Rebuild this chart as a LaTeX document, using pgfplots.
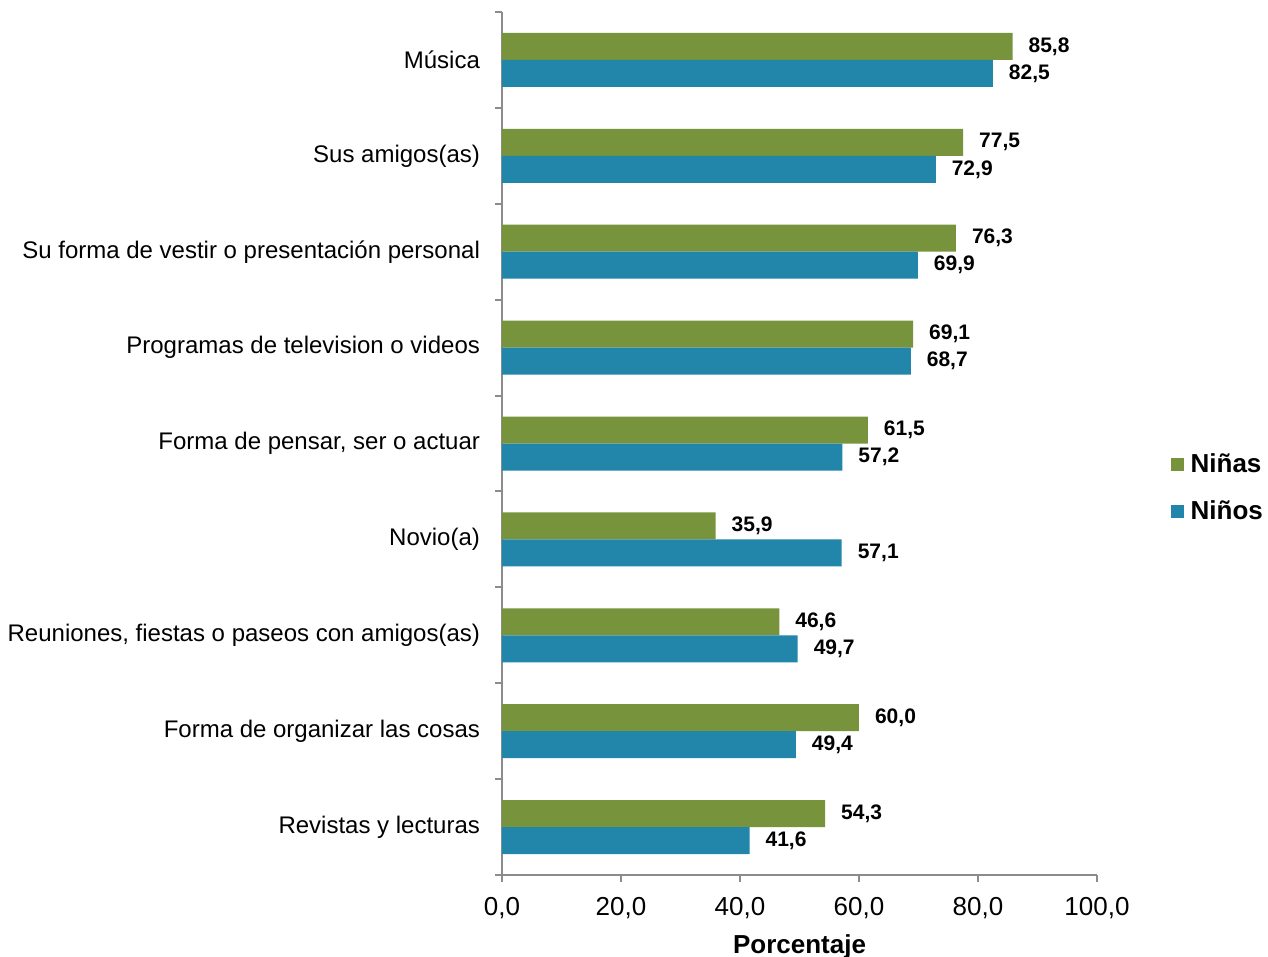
\documentclass[border=0pt]{standalone}
\usepackage{fontspec}
\setmainfont{Liberation Sans}
\usepackage{pgfplots}
\pgfplotsset{compat=1.18}
\definecolor{ninas}{HTML}{77933C}
\definecolor{ninos}{HTML}{2286AA}
\definecolor{axgray}{HTML}{8C8C8C}
\begin{document}
\begin{tikzpicture}
\begin{axis}[
    name=ax,
    scale only axis,
    width=297.5pt, height=431.5pt,
    xmin=0, xmax=100, ymin=-0.5, ymax=8.5,
    axis lines=left,
    axis line style={-, draw=axgray, line width=1pt},
    tick align=outside,
    major tick length=3.5pt,
    tick style={draw=axgray, line width=1pt},
    xbar, bar width=13.5pt,
    xtick={0,20,...,100},
    ytick={-0.5,0.5,1.5,2.5,3.5,4.5,5.5,6.5,7.5,8.5},
    y tick label as interval,
    yticklabels={Revistas y lecturas, Forma de organizar las cosas,
        {Reuniones, fiestas o paseos con amigos(as)}, Novio(a),
        {Forma de pensar, ser o actuar}, Programas de television o videos,
        Su forma de vestir o presentación personal, Sus amigos(as), Música},
    /pgf/number format/.cd, use comma, fixed, fixed zerofill, precision=1,
        assume math mode=true,
    /pgfplots/.cd,
    x tick label style={font=\fontsize{13}{15}\selectfont, yshift=-4pt},
    y tick label style={font=\fontsize{12}{14}\selectfont, xshift=-4pt},
    xlabel={\bfseries Porcentaje},
    xlabel style={font=\fontsize{13}{15}\selectfont, yshift=-1pt},
    point meta=x,
    nodes near coords,
    nodes near coords style={font=\fontsize{10.5}{12}\selectfont\bfseries, xshift=4.5pt},
    legend style={at={(1.113,0.448)}, anchor=west, draw=none, fill=none,
        font=\fontsize{13}{15}\selectfont\bfseries, row sep=8.5pt},
    legend cell align=left,
    legend image code/.code={\fill[#1] (0pt,-3.25pt) rectangle (6.5pt,3.25pt); \path (8pt,0pt);},
]
\addplot[fill=ninas, draw=none, bar shift=6.75pt] coordinates {
    (54.3,0) (60.0,1) (46.6,2) (35.9,3) (61.5,4) (69.1,5) (76.3,6) (77.5,7) (85.8,8)};
\addplot[fill=ninos, draw=none, bar shift=-6.75pt] coordinates {
    (41.6,0) (49.4,1) (49.7,2) (57.1,3) (57.2,4) (68.7,5) (69.9,6) (72.9,7) (82.5,8)};
\legend{Niñas, Niños}
\end{axis}
\pgfresetboundingbox
\path ([shift={(-251pt,-41pt)}]ax.south west) rectangle ([shift={(383pt,437.5pt)}]ax.south west);
\end{tikzpicture}
\end{document}
